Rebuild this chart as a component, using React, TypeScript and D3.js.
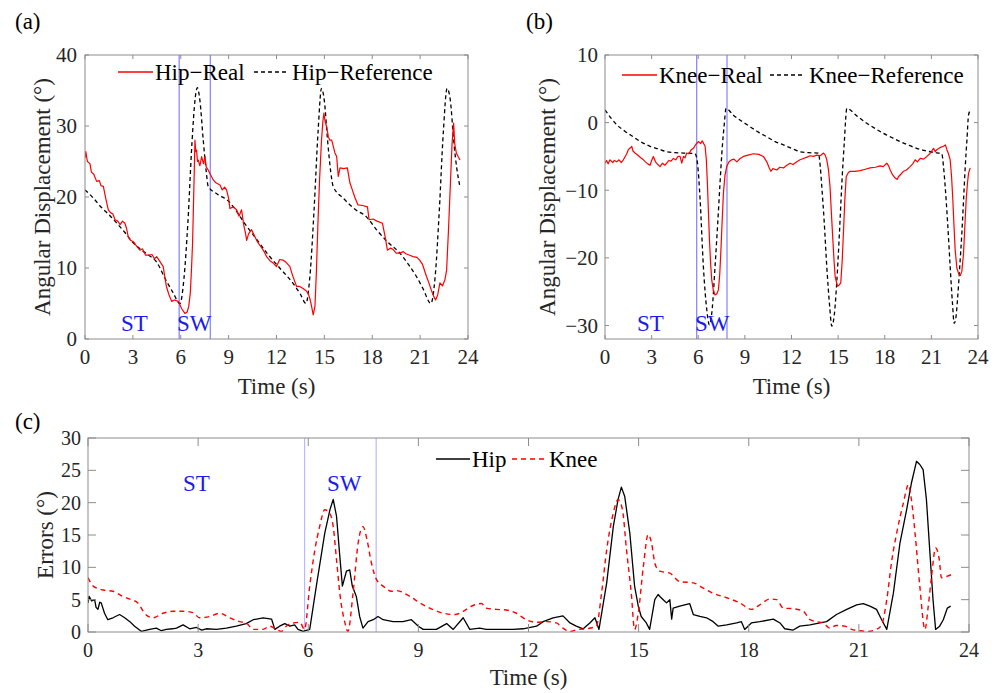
import React from "react";
import * as d3 from "d3";

// ---------- DATA ----------
const timeTicks = [0, 3, 6, 9, 12, 15, 18, 21, 24];
const hipTicks = [0, 10, 20, 30, 40];
const kneeTicks = [-30, -20, -10, 0, 10];
const errTicks = [0, 5, 10, 15, 20, 25, 30];
const phaseLines = [5.9, 7.85];

const hipReference: [number, number][] = [
  [0, 21], [0.5, 19.9], [1, 18.6], [1.5, 17.5], [2, 16.3], [2.5, 15.0], [3, 13.6], [3.5, 12.6], [4, 11.8], [4.5, 10.8],
  [5, 8.6], [5.5, 6.6], [5.95, 5.0], [6.2, 8.5], [6.45, 16.5], [6.7, 27.5], [6.9, 33.8], [7.04, 35.4], [7.2, 33.6],
  [7.41, 28], [7.6, 23.5], [7.72, 21.5], [8.3, 20.4], [9.0, 19.4], [9.3, 18.6], [10, 16.3], [10.7, 14.2], [11.4, 12.1],
  [12.2, 10.0], [13.05, 7.8], [13.5, 6.3], [13.84, 5.0], [14.1, 9], [14.35, 18], [14.6, 29], [14.82, 35.3], [15.0, 33.5],
  [15.2, 28], [15.4, 23.5], [15.55, 21.5], [16.2, 19.8], [16.9, 18.3], [17.64, 17.2], [18.3, 15.3], [19.0, 13.6],
  [19.73, 12.1], [20.3, 10.4], [20.77, 8.8], [21.2, 7.0], [21.67, 5.0], [21.95, 9], [22.2, 18], [22.45, 29],
  [22.69, 35.3], [22.9, 33.5], [23.1, 28], [23.3, 24], [23.49, 21.5],
];

const hipReal: [number, number][] = [
  [0, 25.5], [0.05, 26.4], [0.15, 25.0], [0.31, 24.7], [0.4, 23.5], [0.55, 23.2], [0.73, 22.2], [0.9, 22.3], [1.0, 21.6],
  [1.15, 21.5], [1.3, 19.8], [1.46, 18.2], [1.6, 17.8], [1.75, 17.6], [1.88, 16.8], [2.05, 16.6], [2.2, 16.1],
  [2.35, 16.6], [2.5, 16.3], [2.6, 15.6], [2.71, 14.4], [2.85, 13.9], [3.03, 13.7], [3.2, 13.2], [3.44, 12.5],
  [3.6, 12.7], [3.8, 11.8], [3.97, 11.8], [4.2, 11.9], [4.35, 11.3], [4.49, 11.6], [4.7, 10.9], [4.9, 10.2],
  [5.0, 8.8], [5.1, 7.4], [5.25, 6.3], [5.43, 5.3], [5.6, 5.5], [5.85, 5.3], [6.05, 4.3], [6.26, 3.6], [6.4, 3.8],
  [6.5, 4.6], [6.6, 6.5], [6.68, 10.2], [6.74, 13.5], [6.78, 17.2], [6.84, 23], [6.89, 28.0], [6.94, 26.4],
  [6.99, 26.6], [7.05, 25.0], [7.1, 25.2], [7.2, 24.4], [7.31, 25.7], [7.42, 24.7], [7.52, 25.7], [7.6, 24.2],
  [7.72, 23.8], [7.85, 23.2], [8.04, 22.4], [8.2, 22.0], [8.46, 21.7], [8.6, 21.0], [8.75, 21.4], [8.87, 21.0],
  [9.0, 19.8], [9.08, 18.4], [9.3, 18.6], [9.5, 18.2], [9.65, 17.3], [9.81, 18.2], [9.95, 16.0], [10.05, 15.0],
  [10.13, 13.9], [10.25, 14.8], [10.44, 15.4], [10.6, 14.6], [10.8, 13.7], [10.96, 13.2], [11.2, 12.4], [11.38, 11.6],
  [11.6, 11.0], [11.8, 10.7], [12.0, 10.2], [12.2, 11.2], [12.42, 11.1], [12.6, 10.8], [12.84, 10.2], [13.0, 9.0],
  [13.26, 7.4], [13.45, 7.4], [13.67, 7.1], [13.85, 6.8], [13.99, 6.4], [14.1, 5.6], [14.2, 4.6], [14.3, 3.4],
  [14.41, 4.6], [14.5, 9.5], [14.61, 17.2], [14.7, 22.5], [14.82, 28.0], [14.9, 30.5], [14.97, 31.8], [15.05, 30.6],
  [15.14, 29.9], [15.25, 28.5], [15.34, 28.0], [15.46, 28.0], [15.55, 27.2], [15.66, 26.2], [15.77, 25.7],
  [15.87, 22.9], [15.98, 24.1], [16.2, 24.0], [16.44, 24.1], [16.6, 22.0], [16.75, 21.0], [16.9, 20.0],
  [17.1, 18.9], [17.4, 18.8], [17.7, 18.6], [17.8, 16.8], [18.05, 16.9], [18.3, 16.6], [18.64, 16.3], [18.8, 14.5],
  [18.95, 12.5], [19.15, 12.8], [19.31, 12.6], [19.5, 12.1], [19.73, 12.1], [19.95, 12.3], [20.1, 12.0],
  [20.35, 11.8], [20.56, 11.6], [20.8, 11.5], [20.97, 11.1], [21.15, 10.5], [21.4, 8.8], [21.55, 7.9], [21.7, 6.9],
  [21.85, 6.0], [21.97, 5.5], [22.1, 6.2], [22.24, 7.9], [22.4, 7.5], [22.55, 8.3], [22.66, 9.7], [22.78, 15.5],
  [22.9, 22.0], [23.0, 27.5], [23.1, 30.4], [23.17, 27.5], [23.27, 26.2], [23.38, 25.7], [23.5, 25.2],
];

const kneeReference: [number, number][] = [
  [0, 1.9], [0.75, -0.3], [1.3, -1.3], [1.82, -2.1], [2.35, -2.9], [2.9, -3.5], [3.45, -3.9], [3.97, -4.3], [4.5, -4.45],
  [5.04, -4.5], [5.79, -4.6], [5.95, -6.0], [6.12, -11.4], [6.33, -21.3], [6.55, -27.7], [6.72, -29.9], [6.9, -27.5],
  [7.08, -21.3], [7.25, -15], [7.4, -9.0], [7.55, -3.5], [7.66, -0.6], [7.79, 2.1], [8.26, 1.1], [8.8, 0.2], [9.33, -0.6],
  [9.87, -1.4], [10.41, -2.1], [10.95, -2.8], [11.48, -3.3], [12.0, -3.8], [12.55, -4.3], [13.1, -4.45], [13.73, -4.5],
  [13.85, -6.5], [13.95, -9.5], [14.1, -14.5], [14.27, -21.3], [14.45, -27], [14.59, -30.1], [14.75, -28.5],
  [14.91, -23.7], [15.08, -16.5], [15.24, -9.0], [15.4, -2.8], [15.56, 2.1], [16.2, 1.0], [16.85, -0.1], [17.4, -0.9],
  [17.92, -1.6], [18.45, -2.2], [18.99, -2.8], [19.5, -3.3], [20.06, -3.8], [20.6, -4.15], [21.14, -4.4], [21.67, -4.6],
  [21.78, -6.5], [21.89, -9.5], [22.05, -15], [22.21, -21.3], [22.35, -26.5], [22.47, -29.7], [22.58, -28.8],
  [22.68, -26.2], [22.82, -21.5], [22.96, -16.4], [23.08, -11], [23.18, -6.5], [23.29, -2.5], [23.39, 1.1], [23.5, 1.8],
];

const kneeReal: [number, number][] = [
  [0, -6.0], [0.1, -5.6], [0.2, -6.1], [0.32, -5.5], [0.5, -5.9], [0.6, -5.6], [0.75, -5.8], [0.9, -5.5], [1.05, -5.9],
  [1.18, -5.5], [1.3, -5.0], [1.4, -4.6], [1.5, -4.0], [1.6, -3.8], [1.72, -3.5], [1.8, -4.2], [1.93, -4.5], [2.1, -4.8],
  [2.3, -5.2], [2.47, -5.5], [2.6, -5.8], [2.75, -6.1], [2.9, -6.3], [3.0, -5.6], [3.11, -5.0], [3.25, -5.8],
  [3.4, -6.2], [3.54, -6.5], [3.7, -6.0], [3.85, -6.3], [3.97, -6.0], [4.1, -5.6], [4.25, -5.7], [4.4, -5.3],
  [4.55, -5.5], [4.7, -5.0], [4.83, -5.0], [4.94, -6.0], [5.05, -5.0], [5.15, -5.2], [5.26, -4.5], [5.4, -4.6],
  [5.55, -4.0], [5.69, -3.8], [5.85, -3.2], [6.01, -2.8], [6.15, -3.1], [6.25, -2.7], [6.33, -3.0], [6.44, -3.5],
  [6.52, -5.5], [6.59, -9.0], [6.66, -13.5], [6.72, -17.3], [6.8, -21], [6.87, -23.3], [6.97, -24.8], [7.08, -25.5],
  [7.2, -25.3], [7.3, -24.7], [7.38, -22.5], [7.45, -19.3], [7.53, -15], [7.62, -10.4], [7.72, -7.8], [7.83, -6.5],
  [7.98, -5.8], [8.15, -5.5], [8.3, -5.4], [8.48, -5.8], [8.7, -5.3], [8.91, -5.0], [9.2, -4.8], [9.55, -4.6],
  [9.9, -4.7], [10.19, -5.0], [10.41, -5.8], [10.55, -6.6], [10.67, -7.2], [10.8, -6.8], [11.05, -7.0], [11.25, -6.6],
  [11.48, -6.7], [11.7, -6.3], [11.91, -6.0], [12.1, -6.2], [12.34, -5.8], [12.55, -5.5], [12.77, -5.3],
  [13.0, -5.1], [13.2, -4.9], [13.4, -5.0], [13.63, -4.8], [13.85, -4.9], [14.06, -4.5], [14.17, -4.8], [14.27, -5.5],
  [14.38, -7.0], [14.48, -9.5], [14.57, -13.5], [14.66, -17.3], [14.74, -20.5], [14.81, -22.8], [14.96, -24.2],
  [15.07, -24.0], [15.17, -23.7], [15.26, -20.5], [15.34, -16.4], [15.43, -11.5], [15.52, -8.0], [15.65, -7.4],
  [15.77, -7.2], [16.1, -7.2], [16.42, -7.1], [16.75, -6.9], [17.06, -6.7], [17.4, -6.6], [17.7, -6.4], [17.9, -6.5],
  [18.13, -6.0], [18.25, -6.4], [18.35, -7.0], [18.5, -7.7], [18.67, -8.2], [18.8, -8.4], [18.88, -8.0],
  [19.05, -7.6], [19.2, -7.2], [19.4, -7.0], [19.63, -6.5], [19.8, -6.1], [19.96, -5.5], [20.1, -5.8], [20.28, -5.3],
  [20.5, -5.4], [20.71, -5.0], [20.9, -4.6], [21.14, -3.8], [21.25, -4.3], [21.35, -4.0], [21.55, -3.7],
  [21.78, -3.5], [21.9, -3.3], [22.0, -4.0], [22.1, -4.6], [22.21, -5.5], [22.3, -8.0], [22.38, -11.4],
  [22.45, -15], [22.53, -18.8], [22.64, -21.5], [22.75, -22.3], [22.86, -22.6], [22.96, -22.0], [23.07, -19.3],
  [23.15, -15.5], [23.24, -11.4], [23.32, -9.0], [23.39, -7.5], [23.5, -6.7],
];

const hipError: [number, number][] = [
  [0, 4.5], [0.03, 5.5], [0.1, 4.8], [0.18, 5.0], [0.22, 3.8], [0.27, 3.5], [0.32, 4.6], [0.36, 4.5], [0.45, 2.9],
  [0.54, 1.9], [0.68, 2.2], [0.86, 2.7], [1.0, 2.2], [1.14, 1.6], [1.27, 0.9], [1.45, 0.1], [1.68, 0.4], [1.86, 0.6],
  [2.0, 0.2], [2.13, 0.4], [2.3, 0.5], [2.41, 0.6], [2.59, 1.1], [2.77, 0.5], [2.95, 0.7], [3.1, 0.3], [3.22, 0.5],
  [3.5, 0.4], [3.77, 0.6], [4.04, 0.9], [4.31, 1.3], [4.5, 1.9], [4.77, 2.2], [5.0, 2.0], [5.09, 0.4], [5.22, 0.9],
  [5.36, 1.3], [5.5, 0.9], [5.63, 1.1], [5.72, 0.4], [5.86, 0.1], [6.04, 0.4], [6.22, 7.1], [6.45, 15.3],
  [6.59, 18.9], [6.68, 20.5], [6.77, 17.9], [6.86, 11.7], [6.93, 7.1], [7.04, 9.4], [7.13, 9.6], [7.2, 7.1],
  [7.31, 5.5], [7.4, 2.4], [7.49, 0.6], [7.63, 1.6], [7.77, 1.9], [7.9, 2.4], [8.04, 1.9], [8.31, 1.6], [8.58, 1.6],
  [8.81, 1.9], [9.0, 0.9], [9.13, 0.4], [9.49, 0.4], [9.77, 1.3], [9.95, 0.4], [10.22, 2.2], [10.4, 0.4],
  [10.67, 0.6], [10.85, 0.4], [11.13, 0.4], [11.58, 0.4], [11.85, 0.5], [12.22, 0.9], [12.4, 1.6], [12.67, 2.2],
  [12.94, 2.5], [13.13, 1.4], [13.3, 0.9], [13.49, 0.5], [13.67, 1.4], [13.81, 2.2], [13.92, 0.4], [14.13, 7.6],
  [14.31, 16.3], [14.44, 20.5], [14.53, 22.4], [14.62, 21.0], [14.76, 15.3], [14.89, 7.1], [14.99, 4.0],
  [15.07, 2.4], [15.21, 1.4], [15.3, 0.4], [15.44, 5.0], [15.53, 5.8], [15.58, 5.5], [15.67, 5.0], [15.76, 4.5],
  [15.85, 5.0], [15.9, 2.0], [15.94, 3.7], [16.12, 4.0], [16.39, 4.4], [16.49, 2.7], [16.67, 2.4], [16.85, 2.2],
  [17.03, 1.6], [17.17, 0.9], [17.4, 1.1], [17.67, 1.4], [17.8, 1.6], [17.89, 0.4], [18.07, 1.4], [18.3, 1.6],
  [18.67, 2.0], [18.85, 1.4], [18.98, 0.5], [19.21, 0.3], [19.39, 0.9], [19.67, 1.1], [19.94, 1.4], [20.12, 1.6],
  [20.39, 2.7], [20.67, 3.5], [20.94, 4.2], [21.12, 4.4], [21.3, 4.0], [21.48, 3.5], [21.62, 1.9], [21.76, 0.4],
  [21.94, 6.0], [22.12, 13.8], [22.3, 18.9], [22.43, 23.0], [22.57, 26.4], [22.66, 25.9], [22.75, 25.1],
  [22.84, 20.5], [22.93, 12.7], [23.02, 5.0], [23.09, 0.4], [23.2, 0.9], [23.3, 1.9], [23.41, 3.7], [23.5, 4.0],
];

const kneeError: [number, number][] = [
  [0, 8.4], [0.14, 7.1], [0.41, 6.5], [0.68, 6.3], [0.95, 5.5], [1.18, 5.0], [1.36, 4.5], [1.54, 2.9], [1.77, 2.2],
  [2.04, 2.9], [2.32, 3.2], [2.59, 3.2], [2.86, 3.0], [3.04, 2.2], [3.32, 2.4], [3.59, 2.9], [3.86, 2.2], [4.13, 1.6],
  [4.31, 1.4], [4.5, 0.4], [4.77, 0.4], [4.95, 0.9], [5.13, 0.4], [5.27, 0.1], [5.4, 0.9], [5.59, 1.4], [5.77, 1.5],
  [5.9, 0.4], [6.04, 7.1], [6.18, 12.7], [6.31, 16.3], [6.45, 18.9], [6.58, 18.4], [6.68, 16.3], [6.77, 11.2],
  [6.86, 6.0], [7.0, 1.4], [7.08, 0.1], [7.22, 6.0], [7.36, 13.8], [7.49, 16.3], [7.6, 14.3], [7.72, 10.7],
  [7.86, 8.1], [8.04, 7.1], [8.27, 6.3], [8.4, 6.4], [8.77, 5.5], [9.04, 4.5], [9.31, 3.7], [9.68, 2.9], [10.0, 2.7],
  [10.22, 3.2], [10.49, 4.1], [10.72, 4.4], [10.85, 3.7], [11.13, 3.5], [11.4, 3.4], [11.67, 2.9], [11.94, 1.9],
  [12.22, 1.5], [12.49, 1.6], [12.76, 1.4], [12.94, 0.6], [13.13, 0.1], [13.35, 0.4], [13.58, 0.5], [13.85, 0.9],
  [13.99, 6.0], [14.13, 12.7], [14.31, 18.4], [14.44, 20.5], [14.56, 18.9], [14.67, 12.7], [14.8, 6.0], [14.89, 0.4],
  [14.99, 2.9], [15.13, 10.2], [15.26, 15.1], [15.35, 13.8], [15.44, 10.7], [15.53, 9.6], [15.58, 9.4], [15.85, 9.1],
  [16.12, 7.8], [16.49, 7.6], [16.76, 6.8], [17.03, 6.0], [17.4, 5.3], [17.76, 4.5], [18.07, 3.5], [18.3, 4.2],
  [18.58, 5.1], [18.76, 5.0], [18.94, 3.7], [19.21, 3.6], [19.49, 3.2], [19.67, 1.9], [19.85, 1.6], [20.03, 1.4],
  [20.21, 0.6], [20.39, 1.0], [20.62, 0.9], [20.8, 0.4], [21.03, 0.2], [21.26, 0.1], [21.48, 0.4], [21.62, 1.1],
  [21.76, 5.0], [21.9, 11.2], [22.03, 15.3], [22.21, 19.9], [22.35, 22.8], [22.43, 20.5], [22.53, 15.3],
  [22.66, 7.1], [22.8, 0.4], [22.89, 4.0], [22.98, 8.6], [23.09, 13.0], [23.19, 11.2], [23.25, 8.4], [23.39, 8.6],
  [23.53, 8.9],
];

// ---------- STYLE ----------
const FONT = "Liberation Serif";
const FRAME = "#8c8c8c";
const TEXT = "#262626";
const BLUE = "#1a1aee";

type Series = { data: [number, number][]; color: string; dash?: string; width: number; smooth?: boolean };

function Panel(props: {
  x0: number; x1: number; y0: number; y1: number;
  yDomain: [number, number]; yTicks: number[];
  tickLen: number; tickFont: number;
  series: Series[];
  phaseColor: string;
  yLabel: string; yLabelX: number; xLabelY: number; tickLabelY: number; yTickRight: number;
  stPos: [number, number]; swPos: [number, number];
  legend: { y: number; items: { lx0: number; lx1: number; tx: number; label: string; color: string; dash?: string }[] };
  letter: string; letterX: number; letterY: number;
}) {
  const p = props;
  const xs = d3.scaleLinear().domain([0, 24]).range([p.x0, p.x1]);
  const ys = d3.scaleLinear().domain(p.yDomain).range([p.y1, p.y0]);
  const fmt = d3.format("d");
  const clipId = "clip" + p.letter;
  return (
    <g>
      <defs>
        <clipPath id={clipId}>
          <rect x={p.x0} y={p.y0} width={p.x1 - p.x0} height={p.y1 - p.y0} />
        </clipPath>
      </defs>
      <text x={p.letterX} y={p.letterY} fontFamily={FONT} fontSize={23} fill="#000">{`(${p.letter})`}</text>
      {phaseLines.map((t, i) => (
        <line key={i} x1={xs(t)} x2={xs(t)} y1={p.y0} y2={p.y1} stroke={p.phaseColor} strokeWidth={1.2} />
      ))}
      <g clipPath={`url(#${clipId})`}>
        {p.series.map((s, i) => {
          const gen = d3.line<[number, number]>().x((d) => xs(d[0])).y((d) => ys(d[1]));
          if (s.smooth) gen.curve(d3.curveMonotoneX);
          return (
            <path key={i} d={gen(s.data) || ""} fill="none" stroke={s.color} strokeWidth={s.width}
              strokeDasharray={s.dash} strokeLinejoin="round" />
          );
        })}
      </g>
      <rect x={p.x0} y={p.y0} width={p.x1 - p.x0} height={p.y1 - p.y0} fill="none" stroke={FRAME} strokeWidth={1} />
      {timeTicks.map((t) => (
        <g key={"xt" + t}>
          <line x1={xs(t)} x2={xs(t)} y1={p.y1} y2={p.y1 - p.tickLen} stroke={FRAME} />
          <line x1={xs(t)} x2={xs(t)} y1={p.y0} y2={p.y0 + p.tickLen} stroke={FRAME} />
          <text x={xs(t)} y={p.tickLabelY} textAnchor="middle" fontFamily={FONT} fontSize={p.tickFont} fill={TEXT}>{fmt(t)}</text>
        </g>
      ))}
      {p.yTicks.map((v) => (
        <g key={"yt" + v}>
          <line x1={p.x0} x2={p.x0 + p.tickLen} y1={ys(v)} y2={ys(v)} stroke={FRAME} />
          <line x1={p.x1} x2={p.x1 - p.tickLen} y1={ys(v)} y2={ys(v)} stroke={FRAME} />
          <text x={p.yTickRight} y={ys(v)} dy="0.35em" textAnchor="end" fontFamily={FONT} fontSize={p.tickFont} fill={TEXT}>{fmt(v)}</text>
        </g>
      ))}
      <text x={(p.x0 + p.x1) / 2} y={p.xLabelY} textAnchor="middle" fontFamily={FONT} fontSize={23} fill={TEXT}>Time (s)</text>
      <text transform={`translate(${p.yLabelX},${(p.y0 + p.y1) / 2}) rotate(-90)`} dy="0.35em" textAnchor="middle"
        fontFamily={FONT} fontSize={23} fill={TEXT}>{p.yLabel}</text>
      <text x={p.stPos[0]} y={p.stPos[1]} fontFamily={FONT} fontSize={23} fill={BLUE}>ST</text>
      <text x={p.swPos[0]} y={p.swPos[1]} fontFamily={FONT} fontSize={23} fill={BLUE}>SW</text>
      {p.legend.items.map((it, i) => (
        <g key={"lg" + i}>
          <line x1={it.lx0} x2={it.lx1} y1={p.legend.y} y2={p.legend.y} stroke={it.color} strokeWidth={1.3} strokeDasharray={it.dash} />
          <text x={it.tx} y={p.legend.y} dy="0.35em" fontFamily={FONT} fontSize={23} fill="#000">{it.label}</text>
        </g>
      ))}
    </g>
  );
}

export default function App() {
  return (
    <svg width={997} height={693} style={{ position: "absolute", left: 0, top: 0, background: "#fff" }}>
      <rect width={997} height={693} fill="#fff" />
      <Panel
        x0={85} x1={468} y0={55} y1={339} yDomain={[0, 40]} yTicks={hipTicks} tickLen={4} tickFont={21}
        series={[
          { data: hipReference, color: "#000", dash: "4,3", width: 1.3, smooth: true },
          { data: hipReal, color: "#ff0000", width: 1.2 },
        ]}
        phaseColor="#8080ff"
        yLabel="Angular Displacement (°)" yLabelX={42} xLabelY={394} tickLabelY={364} yTickRight={77}
        stPos={[121, 331]} swPos={[177, 331]}
        legend={{ y: 72, items: [
          { lx0: 118, lx1: 153, tx: 155, label: "Hip−Real", color: "#ff0000" },
          { lx0: 254, lx1: 288, tx: 292, label: "Hip−Reference", color: "#000", dash: "4,3" },
        ] }}
        letter="a" letterX={15} letterY={29}
      />
      <Panel
        x0={605} x1={978} y0={55} y1={339} yDomain={[-32, 10]} yTicks={kneeTicks} tickLen={4} tickFont={21}
        series={[
          { data: kneeReference, color: "#000", dash: "4,3", width: 1.3, smooth: true },
          { data: kneeReal, color: "#ff0000", width: 1.2 },
        ]}
        phaseColor="#8080ff"
        yLabel="Angular Displacement (°)" yLabelX={547} xLabelY={394} tickLabelY={364} yTickRight={598}
        stPos={[637, 331]} swPos={[695, 331]}
        legend={{ y: 75, items: [
          { lx0: 622, lx1: 657, tx: 659, label: "Knee−Real", color: "#ff0000" },
          { lx0: 770, lx1: 805, tx: 809, label: "Knee−Reference", color: "#000", dash: "4,3" },
        ] }}
        letter="b" letterX={526} letterY={29}
      />
      <Panel
        x0={88} x1={969} y0={438} y1={632} yDomain={[0, 30]} yTicks={errTicks} tickLen={8} tickFont={20}
        series={[
          { data: hipError, color: "#000", width: 1.3 },
          { data: kneeError, color: "#ff0000", dash: "5,4", width: 1.4, smooth: true },
        ]}
        phaseColor="#b8b8ff"
        yLabel="Errors (°)" yLabelX={45} xLabelY={685} tickLabelY={657} yTickRight={81}
        stPos={[183, 491]} swPos={[327, 491]}
        legend={{ y: 459, items: [
          { lx0: 436, lx1: 470, tx: 472, label: "Hip", color: "#000" },
          { lx0: 512, lx1: 546, tx: 549, label: "Knee", color: "#ff0000", dash: "5,4" },
        ] }}
        letter="c" letterX={15} letterY={429}
      />
    </svg>
  );
}
